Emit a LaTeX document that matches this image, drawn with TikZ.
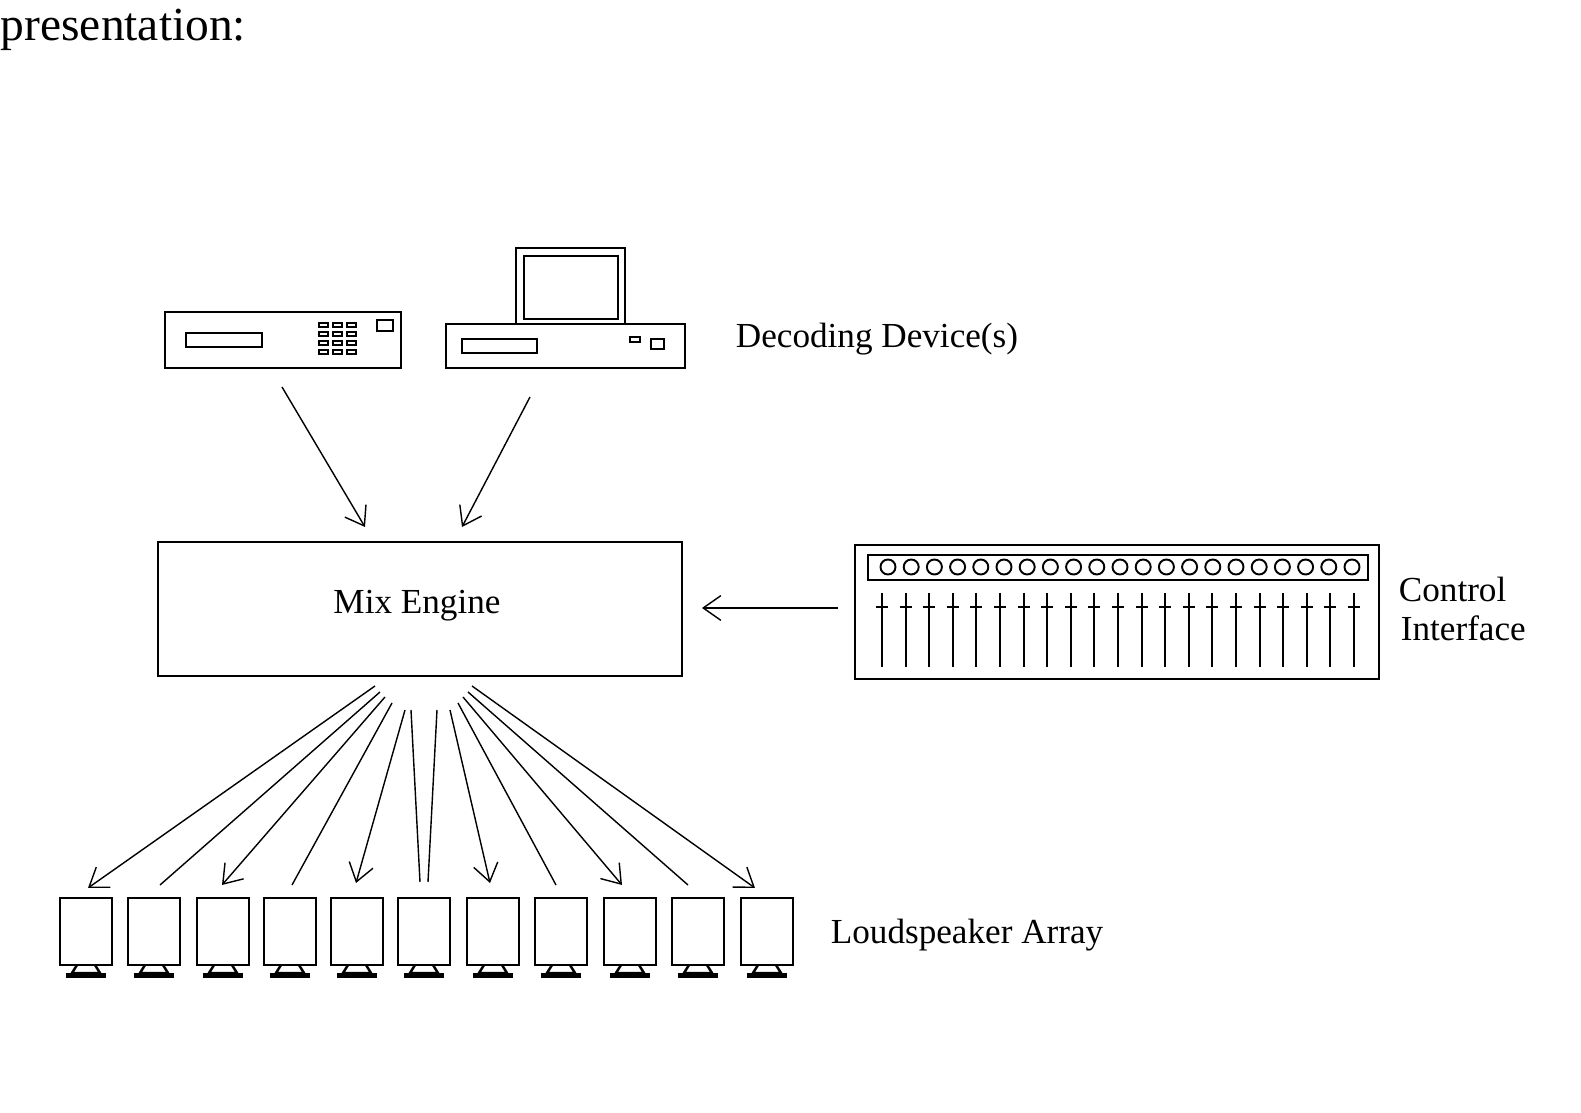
\documentclass[tikz,border=0pt]{standalone}
\usepackage{fontspec}
\setmainfont{Liberation Serif}
\usetikzlibrary{arrows.meta}
\begin{document}
\begin{tikzpicture}[x=0.01cm,y=-0.01cm,line width=0.5pt,
  box/.style={draw,line width=0.7pt},
  small/.style={draw,line width=0.55pt},
  lbl/.style={anchor=west,inner sep=0pt,font=\fontsize{10}{12}\selectfont},
  arr/.style={-{Straight Barb[length=5pt,width=7pt]},line width=0.4pt},
  wire/.style={line width=0.4pt}]
\useasboundingbox (0,0) rectangle (1581,1113);
\node[anchor=west,inner sep=0pt,font=\fontsize{13.5}{16}\selectfont] (pres) at (0,30) {presentation:};
% device 1
\draw[box] (165,312) rectangle (401,368);
\draw[box] (186,333) rectangle (262,347);
\foreach \i in {0,1,2}{\foreach \j in {0,1,2,3}{
  \draw[small] (319+\i*14,323+\j*9) rectangle (328+\i*14,327+\j*9);}}
\draw[box] (377,320) rectangle (393,331);
% device 2
\draw[box] (446,324) rectangle (685,368);
\draw[box] (516,248) rectangle (625,324);
\draw[box] (524,256) rectangle (618,319);
\draw[box] (462,339) rectangle (537,353);
\draw[small] (630,337) rectangle (640,342);
\draw[box] (651,339) rectangle (664,349);
\node[lbl] (dec) at (735,339) {Decoding Device(s)};
% mix engine
\node[draw,line width=0.7pt,minimum width=5.24cm,minimum height=1.34cm,inner sep=0pt,
  font=\fontsize{10}{12}\selectfont] (mix) at (420,609) {};
\node[font=\fontsize{10}{12}\selectfont] (mixl) at (417,606) {Mix Engine};
\coordinate (d1) at (282,387); \coordinate (m1) at (365,527);
\coordinate (d2) at (530,397); \coordinate (m2) at (462,527);
\draw[arr] (d1) -- (m1);
\draw[arr] (d2) -- (m2);
% control interface
\draw[box] (855,545) rectangle (1379,679);
\draw[box] (868,555) rectangle (1368,580);
\foreach \k in {0,...,20}{
  \draw[small] (888+\k*23.2,567) circle (7.5);
  \draw[small] (882+\k*23.6,593) -- (882+\k*23.6,667);
  \draw[small] (876+\k*23.6,607) -- (888+\k*23.6,607);}
\node[lbl] (ctl) at (1398,589) {Control};
\node[lbl] (ctl2) at (1400,628) {Interface};
\coordinate (c0) at (838,608); \coordinate (c1) at (702,608);
\draw[arr] (c0) -- (c1);
% speakers
\foreach \x [count=\n] in {60,128,197,264,331,398,467,535,604,672,741}{
  \draw[box] (\x,898) rectangle (\x+52,965);
  \draw[box] (\x+17,965) -- (\x+12,973) -- (\x+40,973) -- (\x+35,965);
  \fill (\x+6,973) rectangle (\x+46,978);
  \coordinate (s\n) at (\x+26,898);}
\node[lbl] (ls) at (830,935) {Loudspeaker Array};
% fan-out
\coordinate (a1) at (375,686); \coordinate (b1) at (88,888);
\coordinate (a2) at (380,692); \coordinate (b2) at (160,885);
\coordinate (a3) at (385,697); \coordinate (b3) at (222,885);
\coordinate (a4) at (392,703); \coordinate (b4) at (292,885);
\coordinate (a5) at (405,710); \coordinate (b5) at (356,883);
\coordinate (a6) at (411,710); \coordinate (b6) at (420,882);
\coordinate (a7) at (437,710); \coordinate (b7) at (428,882);
\coordinate (a8) at (450,710); \coordinate (b8) at (490,883);
\coordinate (a9) at (458,703); \coordinate (b9) at (556,885);
\coordinate (a10) at (463,697); \coordinate (b10) at (622,885);
\coordinate (a11) at (468,692); \coordinate (b11) at (688,885);
\coordinate (a12) at (472,686); \coordinate (b12) at (755,888);
\foreach \i in {1,3,5,8,10,12}{\draw[arr] (a\i) -- (b\i);}
\foreach \i in {2,4,6,7,9,11}{\draw[wire] (a\i) -- (b\i);}
\end{tikzpicture}
\end{document}
